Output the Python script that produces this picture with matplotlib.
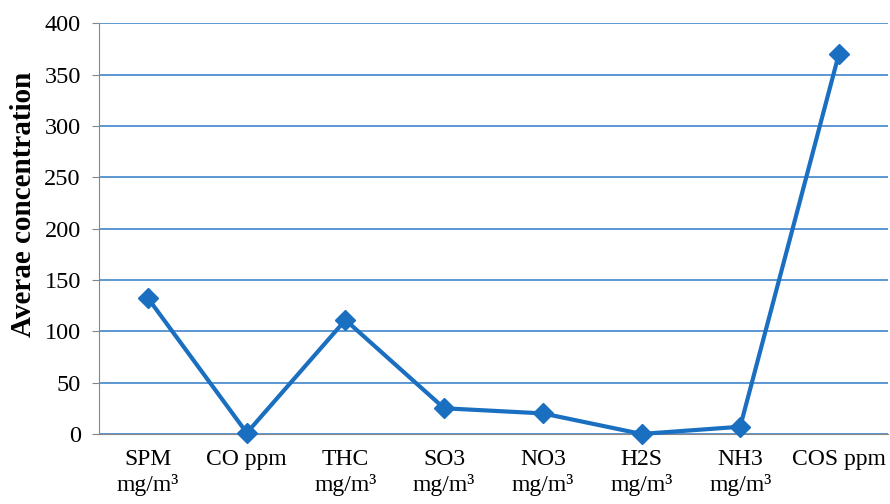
import matplotlib
matplotlib.use('Agg')
import matplotlib.pyplot as plt

categories = ['SPM\nmg/m³', 'CO ppm', 'THC\nmg/m³', 'SO3\nmg/m³', 'NO3\nmg/m³',
              'H2S\nmg/m³', 'NH3\nmg/m³', 'COS ppm']
values = [132, 1, 111, 25, 20, 0, 7, 370]
yticks = [0, 50, 100, 150, 200, 250, 300, 350, 400]

plt.rcParams['font.family'] = ['Liberation Serif', 'DejaVu Serif']

fig = plt.figure(figsize=(8.9, 5.04), dpi=100)
ax = fig.add_axes([0.111, 0.139, 0.887, 0.815])

x = list(range(len(categories)))
ax.plot(x, values, color='#1a6fc0', linewidth=3, marker='D', markersize=10,
        zorder=3, clip_on=False)

ax.set_xlim(-0.5, len(categories) - 0.5)
ax.set_ylim(0, 400)
ax.set_yticks(yticks)
ax.set_xticks(x)
ax.set_xticklabels(categories, fontsize=17, linespacing=1.25)
ax.tick_params(axis='y', labelsize=17.5, length=5, color='#868686', pad=8)
ax.tick_params(axis='x', length=0, pad=11)
ax.yaxis.grid(True, color='#2f7cc8', linewidth=1.1)
ax.set_axisbelow(True)

for side in ['top', 'right']:
    ax.spines[side].set_visible(False)
ax.spines['left'].set_color('#868686')
ax.spines['bottom'].set_color('#868686')

ax.set_ylabel('Averae concentration', fontsize=21, fontweight='bold')
ax.yaxis.set_label_coords(-0.078, 0.56)

fig.savefig('out.png', dpi=100)
